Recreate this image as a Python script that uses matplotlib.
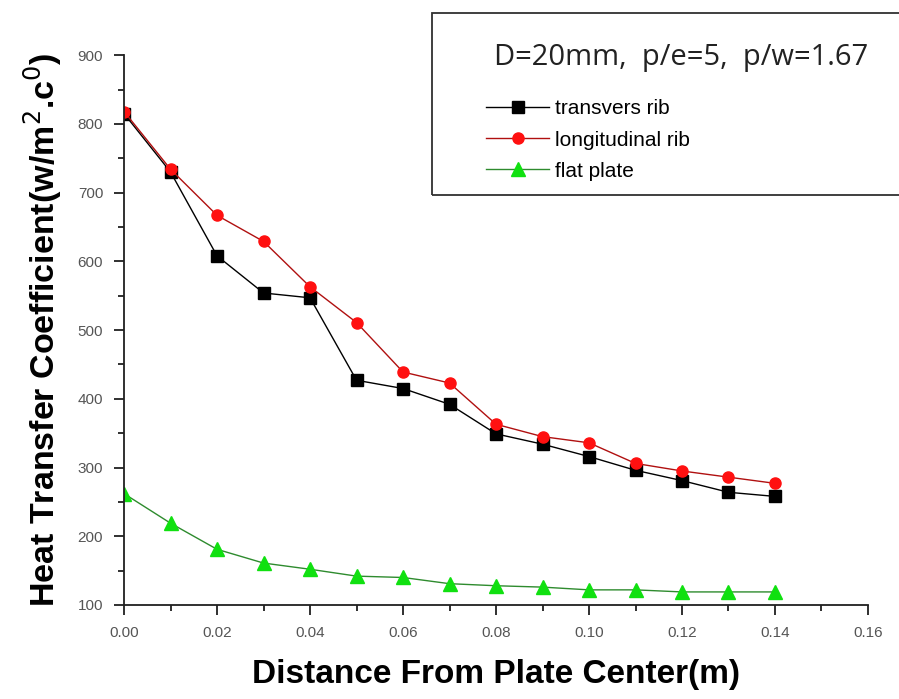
import matplotlib
matplotlib.use('Agg')
import matplotlib.pyplot as plt
from matplotlib.patches import Rectangle
from matplotlib.ticker import MultipleLocator

plt.rcParams['font.family'] = ['Liberation Sans', 'DejaVu Sans']

# data
distance = [0.00, 0.01, 0.02, 0.03, 0.04, 0.05, 0.06, 0.07,
            0.08, 0.09, 0.10, 0.11, 0.12, 0.13, 0.14]
transvers_rib = [815, 730, 608, 554, 547, 427, 415, 392,
                 349, 334, 316, 296, 281, 264, 258]
longitudinal_rib = [818, 734, 667, 629, 563, 511, 439, 423,
                    363, 345, 336, 306, 295, 286, 277]
flat_plate = [262, 219, 181, 161, 152, 142, 140, 131,
              128, 126, 122, 122, 119, 119, 119]

fig = plt.figure(figsize=(8.99, 6.99), dpi=100)
ax = fig.add_axes([0.138, 0.1345, 0.8275, 0.7865])

ax.plot(distance, transvers_rib, color='black', lw=1.0, marker='s',
        ms=8, mfc='black', mec='black', label='transvers rib')
ax.plot(distance, longitudinal_rib, color='#b01010', lw=1.0, marker='o',
        ms=8, mfc='#ff1010', mec='#ff1010', label='longitudinal rib')
ax.plot(distance, flat_plate, color='#2e8b2e', lw=1.0, marker='^',
        ms=10, mfc='#10e010', mec='#10e010', label='flat plate')

ax.set_xlim(0, 0.16)
ax.set_ylim(100, 900)
ax.xaxis.set_major_locator(MultipleLocator(0.02))
ax.xaxis.set_minor_locator(MultipleLocator(0.01))
ax.yaxis.set_major_locator(MultipleLocator(100))
ax.yaxis.set_minor_locator(MultipleLocator(50))
ax.xaxis.set_major_formatter(plt.FuncFormatter(lambda v, p: '%.2f' % v))

for s in ['top', 'right']:
    ax.spines[s].set_visible(False)
for s in ['left', 'bottom']:
    ax.spines[s].set_linewidth(1.3)
    ax.spines[s].set_color('#202020')

ax.tick_params(which='major', direction='out', length=7, width=1.3,
               labelsize=11, labelcolor='#555555', color='#202020', pad=8)
ax.tick_params(which='minor', direction='out', length=4, width=1.3,
               color='#202020')

ax.set_xlabel('Distance From Plate Center(m)', fontsize=24,
              fontweight='bold', labelpad=14)
ax.set_ylabel('Heat Transfer Coefficient(w/m$^{2}$.c$^{0}$)', fontsize=24.5,
              fontweight='bold', labelpad=10)

# legend box running off the right edge
fig.patches.append(Rectangle((432 / 899, 1 - 195 / 699), 480 / 899, 182 / 699,
                             transform=fig.transFigure, fill=False,
                             edgecolor='#303030', lw=1.3, clip_on=False))
fig.text(494 / 899, 1 - 57 / 699, 'D=20mm,  p/e=5,  p/w=1.67', fontsize=21,
         family=['Open Sans', 'DejaVu Sans'], color='#222222', va='center')
leg = fig.legend(loc='upper left', bbox_to_anchor=(476 / 899, 1 - 89 / 699),
                 frameon=False, fontsize=15, handlelength=3.0,
                 handletextpad=0.3, labelspacing=0.58, borderpad=0)

fig.savefig('out.png', dpi=100)
